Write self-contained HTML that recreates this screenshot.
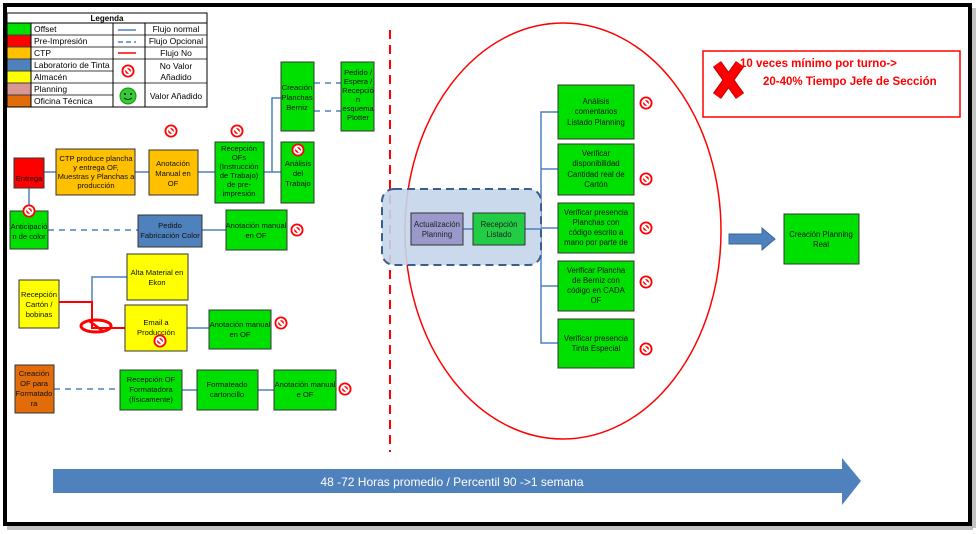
<!DOCTYPE html>
<html><head><meta charset="utf-8"><style>
html,body{margin:0;padding:0;background:#fff;}
svg{display:block;font-family:"Liberation Sans",Arial,sans-serif;}
</style></head><body>
<svg width="980" height="534" viewBox="0 0 980 534" xmlns="http://www.w3.org/2000/svg">
<defs>
<g id="nv"><circle r="6.5" fill="#f00"/><circle r="3.8" fill="none" stroke="#fff" stroke-width="1.8"/><line x1="-3" y1="-3" x2="3" y2="3" stroke="#fff" stroke-width="2.4"/></g>
</defs>
<rect x="0" y="0" width="980" height="534" fill="#fff"/>
<rect x="7" y="526" width="966" height="4" fill="#999" opacity="0.6"/>
<rect x="972" y="8" width="4" height="520" fill="#999" opacity="0.6"/>
<rect x="5" y="5" width="965" height="519" fill="none" stroke="#000" stroke-width="4"/>

<g font-size="8.5" fill="#000">
<rect x="7" y="13" width="200" height="94" fill="#fff" stroke="#000" stroke-width="1"/>
<text x="107" y="21" text-anchor="middle" font-weight="bold" font-size="8">Legenda</text>
<line x1="7" y1="23" x2="207" y2="23" stroke="#000"/>
<line x1="31" y1="23" x2="31" y2="107" stroke="#000"/>
<line x1="113" y1="23" x2="113" y2="107" stroke="#000"/>
<line x1="145" y1="23" x2="145" y2="107" stroke="#000"/>
<g stroke="#000" stroke-width="0.8">
<line x1="7" y1="35" x2="113" y2="35"/><line x1="7" y1="47" x2="113" y2="47"/><line x1="7" y1="59" x2="113" y2="59"/>
<line x1="7" y1="71" x2="113" y2="71"/><line x1="7" y1="83" x2="113" y2="83"/><line x1="7" y1="95" x2="113" y2="95"/>
<line x1="113" y1="35" x2="207" y2="35"/><line x1="113" y1="47" x2="207" y2="47"/><line x1="113" y1="59" x2="207" y2="59"/><line x1="113" y1="83" x2="207" y2="83"/>
</g>
<rect x="7.5" y="23.5" width="23" height="11" fill="#00e000"/>
<rect x="7.5" y="35.5" width="23" height="11" fill="#f00"/>
<rect x="7.5" y="47.5" width="23" height="11" fill="#ffc000"/>
<rect x="7.5" y="59.5" width="23" height="11" fill="#4f81bd"/>
<rect x="7.5" y="71.5" width="23" height="11" fill="#ff0"/>
<rect x="7.5" y="83.5" width="23" height="11" fill="#d99694"/>
<rect x="7.5" y="95.5" width="23" height="11" fill="#e36c0a"/>
<text x="34" y="32">Offset</text><text x="34" y="44">Pre-Impresión</text><text x="34" y="56">CTP</text>
<text x="34" y="68">Laboratorio de Tinta</text><text x="34" y="80">Almacén</text><text x="34" y="92">Planning</text><text x="34" y="104">Oficina Técnica</text>
<line x1="118" y1="30" x2="136" y2="30" stroke="#4f81bd" stroke-width="1.5"/>
<line x1="118" y1="42" x2="136" y2="42" stroke="#4f81bd" stroke-width="1.5" stroke-dasharray="5,3"/>
<line x1="118" y1="53" x2="136" y2="53" stroke="#f00" stroke-width="1.5"/>
<text x="176" y="32" text-anchor="middle">Flujo normal</text>
<text x="176" y="44" text-anchor="middle">Flujo Opcional</text>
<text x="176" y="56" text-anchor="middle">Flujo No</text>
<text x="176" y="69" text-anchor="middle">No Valor</text>
<text x="176" y="80" text-anchor="middle">Añadido</text>
<text x="176" y="99" text-anchor="middle">Valor Añadido</text>
<use href="#nv" x="128" y="71"/>
<circle cx="128" cy="96" r="8" fill="#33cc33" stroke="#1a8a1a"/>
<circle cx="125" cy="94" r="1" fill="#000"/><circle cx="131" cy="94" r="1" fill="#000"/>
<path d="M124,98 Q128,101 132,98" fill="none" stroke="#000" stroke-width="0.8"/>
</g>

<g stroke="#4f81bd" stroke-width="1.5" fill="none">
<line x1="44" y1="172" x2="56" y2="172"/>
<line x1="135" y1="172" x2="149" y2="172"/>
<line x1="198" y1="172" x2="215" y2="172"/>
<polyline points="264,172 272,172 272,98 281,98"/>
<line x1="272" y1="172" x2="281" y2="172"/>
<line x1="29" y1="188" x2="29" y2="211"/>
<line x1="202" y1="230" x2="226" y2="230"/>
<polyline points="92,302 92,277 127,277"/>
<line x1="187" y1="328" x2="209" y2="328"/>
<line x1="182" y1="390" x2="197" y2="390"/>
<line x1="258" y1="390" x2="274" y2="390"/>
<polyline points="558,112 541,112 541,343 558,343"/>
<line x1="541" y1="169" x2="558" y2="169"/>
<line x1="541" y1="228" x2="558" y2="228"/>
<line x1="541" y1="286" x2="558" y2="286"/>
</g>
<g stroke="#4f81bd" stroke-width="1.5" fill="none" stroke-dasharray="6,5">
<line x1="314" y1="83" x2="341" y2="83"/>
<line x1="314" y1="111" x2="341" y2="111"/>
<line x1="48" y1="230" x2="138" y2="230"/>
<line x1="54" y1="389" x2="120" y2="389"/>
</g>
<g stroke="#f00" stroke-width="2" fill="none">
<polyline points="59,302 92,302 92,328 125,328"/>
</g>
<ellipse cx="96" cy="326" rx="15" ry="6" fill="none" stroke="#f00" stroke-width="3"/>
<line x1="88" y1="320" x2="104" y2="332" stroke="#f00" stroke-width="2.5"/>

<g stroke="#333" stroke-width="1" font-size="8" text-anchor="middle" fill="#000">
<rect x="14" y="158" width="30" height="30" fill="#f00"/>
<rect x="56" y="149" width="79" height="46" fill="#ffc000"/>
<rect x="149" y="150" width="49" height="45" fill="#ffc000"/>
<rect x="215" y="142" width="49" height="61" fill="#00e000"/>
<rect x="281" y="62" width="33" height="69" fill="#00e000"/>
<rect x="281" y="142" width="33" height="61" fill="#00e000"/>
<rect x="341" y="62" width="33" height="69" fill="#00e000"/>
<rect x="10" y="211" width="38" height="38" fill="#00e000"/>
<rect x="138" y="215" width="64" height="32" fill="#4f81bd"/>
<rect x="226" y="210" width="61" height="40" fill="#00e000"/>
<rect x="19" y="280" width="40" height="48" fill="#ff0"/>
<rect x="127" y="254" width="61" height="46" fill="#ff0"/>
<rect x="125" y="305" width="62" height="46" fill="#ff0"/>
<rect x="209" y="310" width="62" height="39" fill="#00e000"/>
<rect x="15" y="365" width="39" height="48" fill="#e36c0a"/>
<rect x="120" y="370" width="62" height="40" fill="#00e000"/>
<rect x="197" y="370" width="61" height="40" fill="#00e000"/>
<rect x="274" y="370" width="62" height="40" fill="#00e000"/>
</g>
<g font-size="7.6" text-anchor="middle" fill="#111">
<text x="29" y="181">Entrega</text>
<text x="96" y="161">CTP produce plancha</text><text x="96" y="170">y entrega  OF,</text><text x="96" y="179">Muestras y Planchas a</text><text x="96" y="188">producción</text>
<text x="173" y="166">Anotación</text><text x="173" y="176">Manual en</text><text x="173" y="186">OF</text>
<text x="239" y="151">Recepción</text><text x="239" y="160">OFs</text><text x="239" y="169">(Instrucción</text><text x="239" y="178">de Trabajo)</text><text x="239" y="187">de pre-</text><text x="239" y="196">impresión</text>
<text x="297" y="90">Creación</text><text x="297" y="100">Planchas</text><text x="297" y="110">Berniz</text>
<text x="298" y="166">Análisis</text><text x="298" y="176">del</text><text x="298" y="186">Trabajo</text>
<text x="358" y="75">Pedido /</text><text x="358" y="84">Espera /</text><text x="358" y="93">Recepció</text><text x="358" y="102">n</text><text x="358" y="111">esquema</text><text x="358" y="120">Plotter</text>
<text x="29" y="229">Anticipació</text><text x="29" y="239">n de color</text>
<text x="170" y="228">Pedido</text><text x="170" y="238">Fabricación Color</text>
<text x="256" y="228">Anotación manual</text><text x="256" y="238">en OF</text>
<text x="39" y="297">Recepción</text><text x="39" y="307">Cartón /</text><text x="39" y="317">bobinas</text>
<text x="157" y="275">Alta Material en</text><text x="157" y="285">Ekon</text>
<text x="156" y="325">Email a</text><text x="156" y="335">Producción</text>
<text x="240" y="327">Anotación manual</text><text x="240" y="337">en OF</text>
<text x="34" y="376">Creación</text><text x="34" y="386">OF para</text><text x="34" y="396">Formatado</text><text x="34" y="406">ra</text>
<text x="151" y="382">Recepción OF</text><text x="151" y="392">Formatadora</text><text x="151" y="402">(físicamente)</text>
<text x="227" y="387">Formateado</text><text x="227" y="397">cartoncillo</text>
<text x="305" y="387">Anotación manual</text><text x="305" y="397">e OF</text>
</g>
<g>
<use href="#nv" x="171" y="131"/><use href="#nv" x="237" y="131"/><use href="#nv" x="298" y="150"/>
<use href="#nv" x="29" y="211"/><use href="#nv" x="297" y="230"/><use href="#nv" x="281" y="323"/>
<use href="#nv" x="160" y="341"/><use href="#nv" x="345" y="389"/>
<use href="#nv" x="646" y="103"/><use href="#nv" x="646" y="179"/><use href="#nv" x="646" y="228"/>
<use href="#nv" x="646" y="282"/><use href="#nv" x="646" y="349"/>
</g>

<line x1="390" y1="30" x2="390" y2="452" stroke="#f00" stroke-width="2" stroke-dasharray="9,6"/>
<ellipse cx="563" cy="231" rx="158" ry="208" fill="none" stroke="#f00" stroke-width="1.5"/>
<rect x="382" y="189" width="159" height="76" rx="12" fill="#c5d5ea" fill-opacity="0.9" stroke="#3a5f8f" stroke-width="2" stroke-dasharray="8,5"/>
<line x1="463" y1="229" x2="473" y2="229" stroke="#4f81bd" stroke-width="1.5"/>
<line x1="525" y1="229" x2="541" y2="229" stroke="#4f81bd" stroke-width="1.5"/>
<rect x="411" y="213" width="52" height="32" fill="#9999cc" stroke="#333"/>
<rect x="473" y="213" width="52" height="32" fill="#22cc44" stroke="#333"/>
<g font-size="7.8" text-anchor="middle" fill="#222">
<text x="437" y="227">Actualización</text><text x="437" y="237">Planning</text>
<text x="499" y="227">Recepción</text><text x="499" y="237">Listado</text>
</g>
<g stroke="#333" fill="#00e000">
<rect x="558" y="85" width="76" height="54"/>
<rect x="558" y="144" width="76" height="51"/>
<rect x="558" y="203" width="76" height="50"/>
<rect x="558" y="261" width="76" height="50"/>
<rect x="558" y="319" width="76" height="49"/>
</g>
<g font-size="7.8" text-anchor="middle" fill="#111">
<text x="596" y="104">Análisis</text><text x="596" y="114">comentarios</text><text x="596" y="125">Listado Planning</text>
<text x="596" y="156">Verificar</text><text x="596" y="166">disponibilidad</text><text x="596" y="177">Cantidad  real de</text><text x="596" y="187">Cartón</text>
<text x="596" y="215">Verificar presencia</text><text x="596" y="225">Planchas con</text><text x="596" y="235">código escrito a</text><text x="596" y="245">mano por parte de</text>
<text x="596" y="273">Verificar  Plancha</text><text x="596" y="283">de Berniz con</text><text x="596" y="293">código en CADA</text><text x="596" y="303">OF</text>
<text x="596" y="341">Verificar presencia</text><text x="596" y="351">Tinta Especial</text>
</g>

<rect x="703" y="51" width="257" height="66" fill="#fff" stroke="#f00" stroke-width="1.5"/>
<g stroke="#b00" stroke-width="10" stroke-linecap="butt">
<line x1="717" y1="64" x2="740" y2="96"/><line x1="740" y1="64" x2="717" y2="96"/>
</g>
<g stroke="#f00" stroke-width="8" stroke-linecap="butt">
<line x1="717" y1="64" x2="740" y2="96"/><line x1="740" y1="64" x2="717" y2="96"/>
</g>
<g font-size="11.5" fill="#f00" font-weight="bold">
<text x="740" y="67">10 veces mínimo por turno-&gt;</text>
<text x="763" y="85">20-40% Tiempo Jefe de Sección</text>
</g>

<polygon points="729,234 762,234 762,228 775,239 762,250 762,244 729,244" fill="#4f81bd" stroke="#3a6598"/>
<rect x="784" y="214" width="75" height="50" fill="#00e000" stroke="#333"/>
<g font-size="7.8" text-anchor="middle" fill="#111">
<text x="821" y="237">Creación Planning</text><text x="821" y="247">Real</text>
</g>

<polygon points="53,469 842,469 842,458 861,481 842,505 842,493 53,493" fill="#4f81bd"/>
<text x="452" y="486" font-size="12" fill="#fff" text-anchor="middle">48 -72 Horas promedio / Percentil 90 -&gt;1 semana</text>
</svg>
</body></html>
